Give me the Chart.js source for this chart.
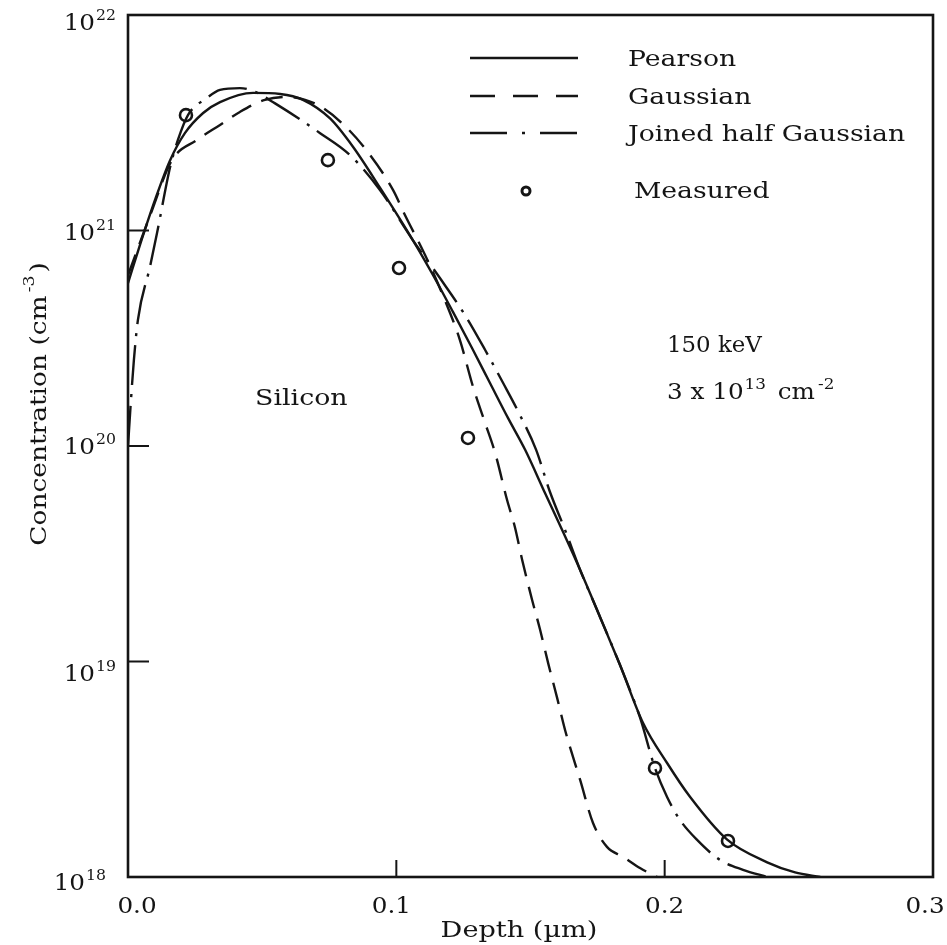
<!DOCTYPE html>
<html>
<head>
<meta charset="utf-8">
<script src="https://cdn.jsdelivr.net/npm/chart.js@4.4.1/dist/chart.umd.min.js"></script>
<style>
  html, body { margin: 0; padding: 0; background: #fff; }
  canvas { display: block; }
</style>
</head>
<body>
<canvas id="chart" width="947" height="945"></canvas>
<script>
// Depth in um, concentration in cm^-3.
const pearsonDepth = [0, 0.0045, 0.0101, 0.0157, 0.0212, 0.028, 0.0343, 0.0466, 0.0567, 0.0652, 0.0753,
  0.0839, 0.0939, 0.1062, 0.1137, 0.1211, 0.1282, 0.1349, 0.1416, 0.148, 0.1554, 0.1621, 0.1685,
  0.1759, 0.1834, 0.1919, 0.2009, 0.2095, 0.2233, 0.2382, 0.2486, 0.258];
const pearsonConc = [5.7e20, 8.6e20, 1.39e21, 2.12e21, 2.83e21, 3.51e21, 3.94e21, 4.35e21, 4.30e21, 4.04e21, 3.31e21,
  2.44e21, 1.58e21, 9.0e20, 6.2e20, 4.19e20, 2.85e20, 1.96e20, 1.35e20, 9.6e19, 6.05e19, 4.0e19, 2.66e19,
  1.61e19, 9.6e18, 5.2e18, 3.38e18, 2.35e18, 1.49e18, 1.17e18, 1.05e18, 1.0e18];

const gaussDepth = [0, 0.0082, 0.0164, 0.0257, 0.0343, 0.0417, 0.051, 0.0593, 0.066, 0.0727, 0.0816,
  0.0894, 0.0988, 0.1032, 0.1107, 0.1181, 0.1237, 0.1286, 0.1327, 0.1368, 0.1413, 0.1442, 0.1469,
  0.1506, 0.1536, 0.1566, 0.1599, 0.1629, 0.1685, 0.1733, 0.1785, 0.1845, 0.1908, 0.1972];
const gaussConc = [6.2e20, 1.17e21, 2.12e21, 2.63e21, 3.09e21, 3.55e21, 4.04e21, 4.17e21, 4.04e21, 3.70e21, 2.99e21,
  2.31e21, 1.54e21, 1.18e21, 7.7e20, 4.75e20, 3.10e20, 1.88e20, 1.32e20, 9.3e19, 5.6e19, 4.2e19, 2.96e19,
  1.93e19, 1.40e19, 9.8e18, 6.8e18, 4.8e18, 2.82e18, 1.78e18, 1.38e18, 1.24e18, 1.10e18, 1.0e18];

const halfGaussDepth = [0, 0.0011, 0.0022, 0.0037, 0.0082, 0.0108, 0.0157, 0.0186, 0.0224, 0.0294, 0.0343,
  0.0417, 0.0466, 0.0548, 0.0716, 0.0827, 0.0939, 0.1062, 0.1163, 0.1256, 0.1331, 0.1398, 0.1461,
  0.1521, 0.1573, 0.1629, 0.1685, 0.1759, 0.1834, 0.1908, 0.1964, 0.2009, 0.2057, 0.212, 0.2206,
  0.2292, 0.2382];
const halfGaussConc = [1.0e20, 1.63e20, 2.51e20, 3.85e20, 6.8e20, 9.7e20, 1.97e21, 2.63e21, 3.44e21, 4.12e21, 4.49e21,
  4.58e21, 4.44e21, 3.89e21, 2.83e21, 2.24e21, 1.54e21, 9.0e20, 6.0e20, 4.05e20, 2.79e20, 1.96e20, 1.39e20,
  9.6e19, 6.1e19, 4.07e19, 2.66e19, 1.61e19, 9.6e18, 5.5e18, 3.2e18, 2.35e18, 1.84e18, 1.49e18, 1.20e18,
  1.08e18, 1.0e18];

const measuredDepth = [0.0216, 0.0745, 0.101, 0.1267, 0.1964, 0.2236];
const measuredConc = [3.43e21, 2.12e21, 6.7e20, 1.09e20, 3.2e18, 1.47e18];

const xTicks = [0, 0.1, 0.2, 0.3];
const xTickLabels = ['0.0', '0.1', '0.2', '0.3'];
const yDecades = [1e18, 1e19, 1e20, 1e21, 1e22];
const yExponents = ['18', '19', '20', '21', '22'];
const seriesNames = ['Pearson', 'Gaussian', 'Joined half Gaussian', 'Measured'];

const INK = '#151515';
const SERIF = '"DejaVu Serif", "Liberation Serif", serif';
const STRETCH = 1.15; // the scanned typeface is wider than DejaVu Serif

function toPoints(xs, ys) {
  return xs.map((x, i) => ({ x, y: ys[i] }));
}

// draws runs of text, some raised as superscripts, widened by sx
function drawRich(ctx, parts, x, y, align, sx = STRETCH) {
  let total = 0;
  parts.forEach((p) => {
    ctx.font = `${p.size}px ${SERIF}`;
    p.w = ctx.measureText(p.t).width * sx;
    total += p.w + (p.gap || 0);
  });
  let cx = align === 'right' ? x - total : align === 'center' ? x - total / 2 : x;
  ctx.textBaseline = 'alphabetic';
  ctx.textAlign = 'left';
  parts.forEach((p) => {
    cx += p.gap || 0;
    ctx.font = `${p.size}px ${SERIF}`;
    ctx.save();
    ctx.translate(cx, y - (p.rise || 0));
    ctx.scale(sx, 1);
    ctx.fillText(p.t, 0, 0);
    ctx.restore();
    cx += p.w;
  });
}

function line(ctx, x1, y1, x2, y2) {
  ctx.beginPath();
  ctx.moveTo(x1, y1);
  ctx.lineTo(x2, y2);
  ctx.stroke();
}

const paperPlugin = {
  id: 'paper',
  afterDatasetsDraw(chart) {
    const { ctx, chartArea: a, scales: { x, y } } = chart;
    ctx.save();
    ctx.strokeStyle = INK;
    ctx.fillStyle = INK;

    // frame
    ctx.lineWidth = 2.6;
    ctx.setLineDash([]);
    ctx.strokeRect(a.left, a.top, a.right - a.left, a.bottom - a.top);

    // inward ticks
    ctx.lineWidth = 2;
    xTicks.slice(1, -1).forEach((v) => {
      const px = x.getPixelForValue(v);
      line(ctx, px, a.bottom, px, a.bottom - 17);
    });
    yDecades.slice(1, -1).forEach((v) => {
      const py = y.getPixelForValue(v);
      line(ctx, a.left, py, a.left + 21, py);
    });

    // y tick labels 10^n (the scan sets them slightly unevenly)
    const labelDrop = [13, 19, 8, 9, 15];
    yDecades.forEach((v, i) => {
      const py = y.getPixelForValue(v);
      const right = i === 0 ? 106 : 116;
      drawRich(ctx, [
        { t: '10', size: 22 },
        { t: yExponents[i], size: 14, rise: 10, gap: 1 }
      ], right, py + labelDrop[i], 'right', 1.12);
    });

    // x tick labels
    xTicks.forEach((v, i) => {
      let px = x.getPixelForValue(v);
      if (i === 0) px += 9;
      if (i === xTicks.length - 1) px -= 8;
      if (i === 1) px -= 5;
      drawRich(ctx, [{ t: xTickLabels[i], size: 22 }], px, 913, 'center', 1.12);
    });

    // axis titles
    drawRich(ctx, [{ t: 'Depth (\u00b5m)', size: 23 }], 519, 937, 'center', 1.18);
    ctx.save();
    ctx.translate(38, 404);
    ctx.rotate(-Math.PI / 2);
    drawRich(ctx, [
      { t: 'Concentration (cm', size: 23 },
      { t: '-3', size: 15, rise: 12, gap: 3 },
      { t: ')', size: 23, gap: 3 }
    ], 0, 8, 'center');
    ctx.restore();

    // legend
    const lx1 = 470, lx2 = 578, tx = 628;
    const rows = [
      { dash: [], y: 58 },
      { dash: [25, 18], y: 96 },
      { dash: [37, 15, 3, 15], y: 133 }
    ];
    rows.forEach((r, i) => {
      ctx.lineWidth = 2.6;
      ctx.setLineDash(r.dash);
      line(ctx, lx1, r.y, lx2, r.y);
      ctx.setLineDash([]);
      drawRich(ctx, [{ t: seriesNames[i], size: 23 }], tx, r.y + 8, 'left', 1.16);
    });
    ctx.lineWidth = 3;
    ctx.beginPath();
    ctx.arc(526, 191, 4, 0, Math.PI * 2);
    ctx.stroke();
    drawRich(ctx, [{ t: seriesNames[3], size: 23 }], 634, 198, 'left', 1.16);

    // annotations
    drawRich(ctx, [{ t: 'Silicon', size: 22 }], 255, 405, 'left', 1.22);
    drawRich(ctx, [{ t: '150 keV', size: 22 }], 667, 352, 'left', 1.04);
    drawRich(ctx, [
      { t: '3 x 10', size: 22 },
      { t: '13', size: 15, rise: 10, gap: 1 },
      { t: ' cm', size: 22, gap: 4 },
      { t: '-2', size: 15, rise: 10, gap: 3 }
    ], 667, 399, 'left', 1.12);

    ctx.restore();
  }
};

const lineStyle = {
  showLine: true,
  pointRadius: 0,
  borderColor: INK,
  borderWidth: 2.4,
  fill: false,
  cubicInterpolationMode: 'monotone'
};

new Chart(document.getElementById('chart'), {
  type: 'scatter',
  data: {
    datasets: [
      { ...lineStyle, label: seriesNames[0], data: toPoints(pearsonDepth, pearsonConc) },
      { ...lineStyle, label: seriesNames[1], data: toPoints(gaussDepth, gaussConc), borderDash: [22, 11] },
      { ...lineStyle, label: seriesNames[2], data: toPoints(halfGaussDepth, halfGaussConc), borderDash: [40, 9, 3, 9] },
      {
        label: seriesNames[3],
        data: toPoints(measuredDepth, measuredConc),
        showLine: false,
        pointStyle: 'circle',
        pointRadius: 6,
        borderWidth: 2.6,
        borderColor: INK,
        backgroundColor: '#fff'
      }
    ]
  },
  options: {
    responsive: false,
    animation: false,
    layout: { padding: { top: 15, right: 14, left: 0, bottom: 0 } },
    plugins: {
      legend: { display: false },
      tooltip: { enabled: false }
    },
    scales: {
      x: {
        type: 'linear',
        min: 0,
        max: 0.3,
        grid: { display: false },
        border: { display: false },
        ticks: { display: false },
        afterFit: (scale) => { scale.height = 68; }
      },
      y: {
        type: 'logarithmic',
        min: 1e18,
        max: 1e22,
        grid: { display: false },
        border: { display: false },
        ticks: { display: false },
        afterFit: (scale) => { scale.width = 128; }
      }
    }
  },
  plugins: [paperPlugin]
});
</script>
</body>
</html>
